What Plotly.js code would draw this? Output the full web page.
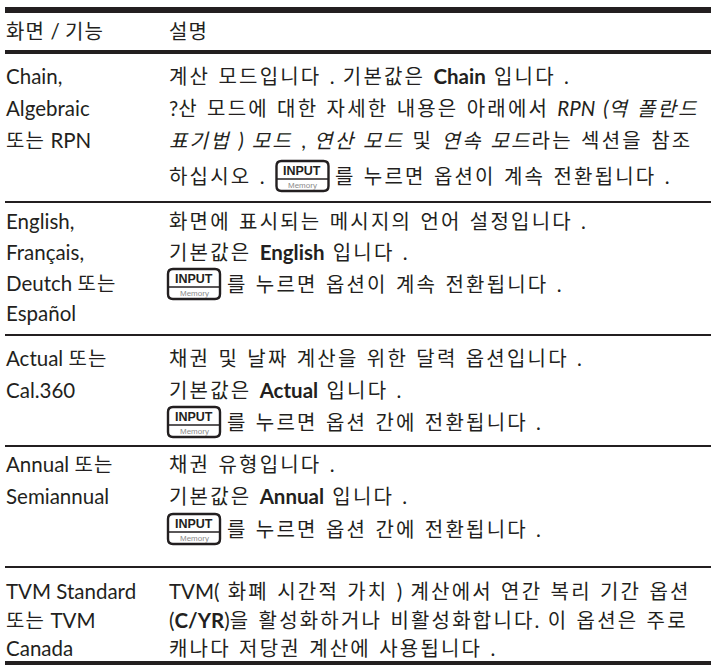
<!DOCTYPE html>
<html>
<head>
<meta charset="utf-8">
<script src="https://cdn.plot.ly/plotly-3.0.1.min.js"></script>
<style>html,body{margin:0;padding:0;background:#fff;}#chart{width:711px;height:669px;}</style>
</head>
<body>
<div id="chart"></div>
<script>
// ---- table content ----
const headerLabels = ["화면 / 기능", "설명"];
const featureCol = [
  ["Chain,", "Algebraic", "또는 RPN"],
  ["English,", "Français,", "Deutch 또는", "Español"],
  ["Actual 또는", "Cal.360"],
  ["Annual 또는", "Semiannual"],
  ["TVM Standard", "또는 TVM", "Canada"]
];
const descCol = [
  ["계산 모드입니다 . 기본값은 <b>Chain</b> 입니다 .",
   "?산 모드에 대한 자세한 내용은 아래에서 <i>RPN (역 폴란드</i>",
   "<i>표기법 ) 모드</i> , <i>연산 모드</i> 및 <i>연속 모드</i>라는 섹션을 참조",
   "하십시오 . {KEY} 를 누르면 옵션이 계속 전환됩니다 ."],
  ["화면에 표시되는 메시지의 언어 설정입니다 .",
   "기본값은 <b>English</b> 입니다 .",
   "{KEY} 를 누르면 옵션이 계속 전환됩니다 ."],
  ["채권 및 날짜 계산을 위한 달력 옵션입니다 .",
   "기본값은 <b>Actual</b> 입니다 .",
   "{KEY} 를 누르면 옵션 간에 전환됩니다 ."],
  ["채권 유형입니다 .",
   "기본값은 <b>Annual</b> 입니다 .",
   "{KEY} 를 누르면 옵션 간에 전환됩니다 ."],
  ["TVM( 화폐 시간적 가치 ) 계산에서 연간 복리 기간 옵션",
   "(<b>C/YR</b>)을 활성화하거나 비활성화합니다. 이 옵션은 주로",
   "캐나다 저당권 계산에 사용됩니다 ."]
];
const keyLabels = ["INPUT", "Memory"];

// ---- layout (pixel coordinates, y downward) ----
const W = 711, H = 669;
const colX = [5, 168];
const FS = 20.5;        // latin size
const KS = 20;          // hangul size
const LS = 2.2;         // hangul letter spacing
const WS = 3;           // extra word spacing (description)
const FONT = "Lato, 'Noto Sans CJK KR', sans-serif";
const TXT = "#231f20";
const headerY = 31;
const featY = [[76,108,140],[221,252,283,313],[358,390],[464,496],[591,620,648]];
const descY = [[76,108,140,176],[221,252,284],[358,390,422],[464,496,529],[591,620,648]];
const rules = [[7,13],[50,54],[201,203],[334,336],[445,447],[566,568],[661,665]];

const shapes = [];
const annotations = [];

rules.forEach(r => shapes.push({type:'rect', xref:'x', yref:'y', x0:colX[0], x1:W, y0:r[0], y1:r[1],
  fillcolor:TXT, line:{width:0}, layer:'above'}));

const HRE = /[\uAC00-\uD7A3\u3131-\u318E]/;
function hangulSized(t, ls) {
  return t.replace(/([\uAC00-\uD7A3\u3131-\u318E]+)/g,
    '<span style="font-size:' + KS + 'px;letter-spacing:' + ls + 'px">$1</span>');
}
function addText(x, y, txt, spaced) {
  let t = hangulSized(txt, spaced ? LS : 1.2);
  if (spaced) t = '<span style="word-spacing:' + WS + 'px">' + t + '</span>';
  annotations.push({x:x, y:y, xref:'x', yref:'y', text:t,
    showarrow:false, xanchor:'left', yanchor:'middle', borderpad:0,
    font:{family:FONT, size:FS, color:TXT}});
}

const cvs = document.createElement('canvas').getContext('2d');
function measure(t) {
  let w = 0;
  const plain = t.replace(/<[^>]+>/g,'');
  for (const ch of plain) {
    const isH = HRE.test(ch);
    cvs.font = (isH ? KS : FS) + "px Lato, 'Noto Sans CJK KR', sans-serif";
    w += cvs.measureText(ch).width + (isH ? LS : 0) + (ch === ' ' ? WS : 0);
  }
  return w;
}

function addKey(x0, yc) {
  const w = 52, h = 30, r = 5;
  const y0 = yc - h/2, y1 = yc + h/2, x1 = x0 + w;
  const p = `M${x0+r},${y0} H${x1-r} Q${x1},${y0} ${x1},${y0+r} V${y1-r} Q${x1},${y1} ${x1-r},${y1} H${x0+r} Q${x0},${y1} ${x0},${y1-r} V${y0+r} Q${x0},${y0} ${x0+r},${y0} Z`;
  shapes.push({type:'path', xref:'x', yref:'y', path:p, line:{color:TXT, width:2.4}, fillcolor:'rgba(0,0,0,0)'});
  const yd = y0 + h*0.6;
  shapes.push({type:'line', xref:'x', yref:'y', x0:x0, x1:x1, y0:yd, y1:yd, line:{color:TXT, width:1.6}});
  annotations.push({x:(x0+x1)/2, y:(y0+yd)/2+0.5, xref:'x', yref:'y', text:'<b>'+keyLabels[0]+'</b>', showarrow:false,
    xanchor:'center', yanchor:'middle', borderpad:0, font:{family:"'Liberation Sans Narrow', 'Liberation Sans', sans-serif", size:12.5, color:TXT}});
  annotations.push({x:(x0+x1)/2, y:(yd+y1)/2, xref:'x', yref:'y', text:keyLabels[1], showarrow:false,
    xanchor:'center', yanchor:'middle', borderpad:0, font:{family:"'Liberation Sans', sans-serif", size:8, color:'#8a8a8a'}});
  return x1;
}

// header
addText(colX[0], headerY, headerLabels[0], false);
addText(colX[1], headerY, headerLabels[1], false);

featureCol.forEach((lines, i) => lines.forEach((t, j) => addText(colX[0], featY[i][j], t, false)));

descCol.forEach((lines, i) => lines.forEach((t, j) => {
  const y = descY[i][j];
  if (t.indexOf('{KEY}') >= 0) {
    const parts = t.split('{KEY}');
    let x = colX[1];
    const pre = parts[0].trim();
    if (pre.length) { addText(x, y, pre, true); x += measure(pre) + 13; }
    const xe = addKey(x, y);
    addText(xe + 6, y, parts[1].trim(), true);
  } else {
    addText(colX[1], y, t, true);
  }
}));

const layout = {
  width: W, height: H,
  margin: {l:0, r:0, t:0, b:0},
  paper_bgcolor: '#fff', plot_bgcolor: '#fff',
  xaxis: {range:[0, W], visible:false, fixedrange:true},
  yaxis: {range:[H, 0], visible:false, fixedrange:true},
  showlegend: false,
  shapes: shapes,
  annotations: annotations
};
Plotly.newPlot('chart', [], layout, {displayModeBar:false, staticPlot:true});
</script>
</body>
</html>
